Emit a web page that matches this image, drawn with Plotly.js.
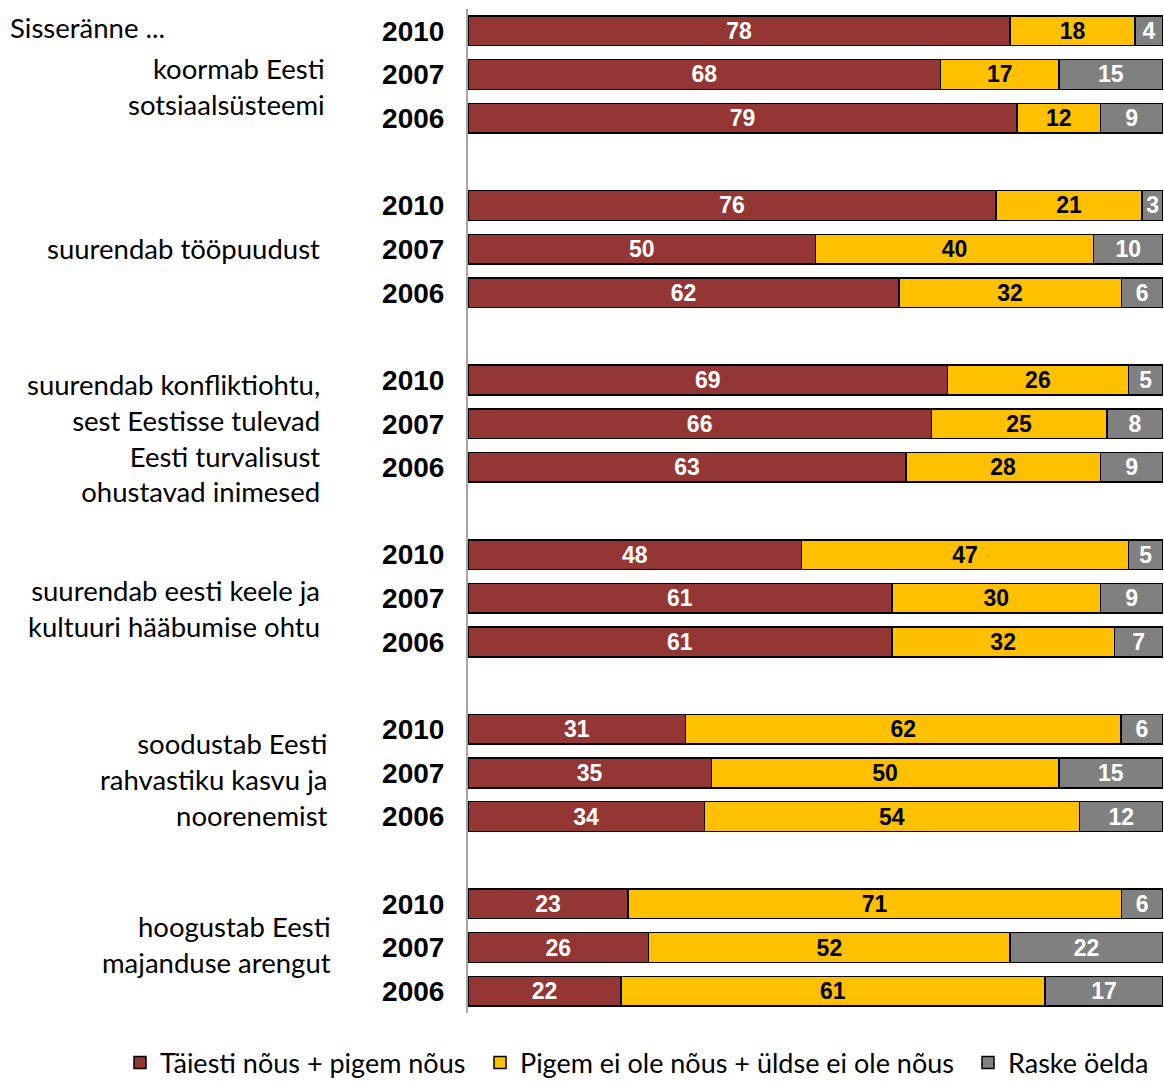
<!DOCTYPE html>
<html>
<head>
<meta charset="utf-8">
<script src="https://cdn.plot.ly/plotly-3.0.1.min.js"></script>
<style>html,body{margin:0;padding:0;background:#fff;}#chart{width:1164px;height:1081px;}</style>
</head>
<body>
<div id="chart"></div>
<script>
const intro = "Sisseränne ...";
const groups = [
  "koormab Eesti<br>sotsiaalsüsteemi",
  "suurendab tööpuudust",
  "suurendab konfliktiohtu,<br>sest Eestisse tulevad<br>Eesti turvalisust<br>ohustavad inimesed",
  "suurendab eesti keele ja<br>kultuuri hääbumise ohtu",
  "soodustab Eesti<br>rahvastiku kasvu ja<br>noorenemist",
  "hoogustab Eesti<br>majanduse arengut"
];
const years = ["2010", "2007", "2006"];
const seriesNames = ["Täiesti nõus + pigem nõus", "Pigem ei ole nõus + üldse ei ole nõus", "Raske öelda"];
const agree    = [78, 68, 79, 76, 50, 62, 69, 66, 63, 48, 61, 61, 31, 35, 34, 23, 26, 22];
const disagree = [18, 17, 12, 21, 40, 32, 26, 25, 28, 47, 30, 32, 62, 50, 54, 71, 52, 61];
const dontKnow = [ 4, 15,  9,  3, 10,  6,  5,  8,  9,  5,  9,  7,  6, 15, 12,  6, 22, 17];

// layout / style constants
const colors = ["#943634", "#FFC000", "#808080"];
const textColors = ["#ffffff", "#000000", "#ffffff"];
const SLOT = 4;
const PLOT_L = 468, PLOT_W = 695;
const labelRight = [327, 322, 322, 322, 330, 333];
const labelShiftPx = [12, -1, 14, 10, 7, -3];
const legendX = [120, 480, 968];

const ypos = [], ytext = [];
groups.forEach((g, gi) => years.forEach((yr, k) => { ypos.push(gi * SLOT + k); ytext.push(yr); }));

const values = [agree, disagree, dontKnow];
const legendIds = ["legend", "legend2", "legend3"];
const traces = values.map((v, i) => ({
  type: "bar",
  orientation: "h",
  name: seriesNames[i],
  legend: legendIds[i],
  x: v,
  y: ypos,
  text: v.map(String),
  textposition: "inside",
  insidetextanchor: "middle",
  textangle: 0,
  constraintext: "none",
  textfont: {family: "Liberation Sans, Arial, sans-serif", size: 23, color: textColors[i], weight: 700},
  marker: {color: colors[i], line: {color: "#000000", width: 1.5}},
  width: 0.68,
  hoverinfo: "x+name"
}));

const labelFont = {family: "Lato, Calibri, sans-serif", size: 27.5, color: "#000"};
const legendFont = {family: "Lato, Calibri, sans-serif", size: 27, color: "#000"};
const annotations = groups.map((g, gi) => ({
  xref: "paper", yref: "y",
  x: (labelRight[gi] - PLOT_L) / PLOT_W, y: gi * SLOT + 1,
  yshift: -labelShiftPx[gi],
  xanchor: "right", yanchor: "middle",
  text: g, align: "right", showarrow: false,
  font: labelFont
}));
annotations.push({
  xref: "paper", yref: "paper",
  x: (8 - PLOT_L) / PLOT_W, y: 1.0, xanchor: "left", yanchor: "top",
  text: intro, showarrow: false, align: "left", font: labelFont
});

const layout = {
  width: 1164, height: 1081,
  margin: {l: PLOT_L, r: 1, t: 9, b: 68},
  barmode: "stack",
  barnorm: "percent",
  paper_bgcolor: "#ffffff",
  plot_bgcolor: "#ffffff",
  xaxis: {range: [0, 100], visible: false, showgrid: false, zeroline: false, fixedrange: true},
  yaxis: {
    range: [groups.length * SLOT - 1.5, -0.5],
    tickvals: ypos, ticktext: ytext,
    tickfont: {family: "Liberation Sans, Arial, sans-serif", size: 28, color: "#000", weight: 700},
    ticks: "", ticklabelstandoff: 16,
    showline: true, linecolor: "#a6a6a6", linewidth: 2,
    showgrid: false, zeroline: false, fixedrange: true
  },
  showlegend: true,
  annotations: annotations
};
legendIds.forEach((id, i) => {
  layout[id] = {
    orientation: "h", xref: "container", yref: "container",
    x: legendX[i] / 1164, y: 1 - 1063 / 1081, xanchor: "left", yanchor: "middle",
    font: legendFont, itemwidth: 30, bgcolor: "rgba(0,0,0,0)"
  };
});

Plotly.newPlot("chart", traces, layout, {displayModeBar: false, staticPlot: true});
</script>
</body>
</html>
